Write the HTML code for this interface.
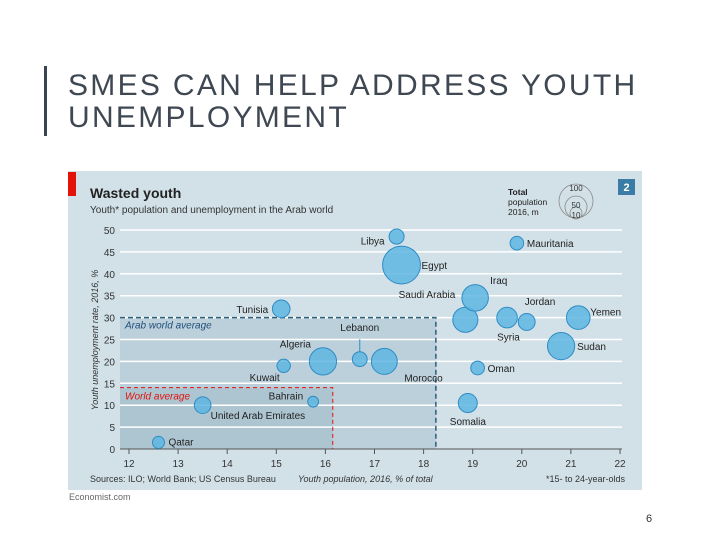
<!DOCTYPE html>
<html><head><meta charset="utf-8"><style>
body{margin:0;width:720px;height:540px;background:#fff;overflow:hidden;font-family:"Liberation Sans",sans-serif;position:relative}
#bar{position:absolute;left:44px;top:66px;width:3px;height:70px;background:#3a4350}
#title{position:absolute;left:68px;top:70px;font-size:30px;line-height:32px;letter-spacing:2.3px;color:#3f4852}
#pg{position:absolute;left:646px;top:513px;font-size:11px;color:#333}
svg{position:absolute;left:0;top:0}
</style></head><body>
<div id="bar"></div>
<div id="title">SMES CAN HELP ADDRESS YOUTH<br>UNEMPLOYMENT</div>
<div id="pg">6</div>
<svg id="chart" width="720" height="540"></svg>
<script>
const countries=["Qatar","United Arab Emirates","Kuwait","Algeria","Bahrain","Lebanon","Morocco","Tunisia","Libya","Egypt","Saudi Arabia","Iraq","Syria","Jordan","Mauritania","Yemen","Sudan","Oman","Somalia"];
const youthPop=[12.6,13.5,15.15,15.95,15.75,16.7,17.2,15.1,17.45,17.55,18.85,19.05,19.7,20.1,19.9,21.15,20.8,19.1,18.9];
const unemployment=[1.5,10,19,20,10.8,20.5,20,32,48.5,42,29.5,34.5,30,29,47,30,23.5,18.5,10.5];
const population=[2.5,9,4,40,1.4,6,35,11,6.3,93,32,37,18,9.5,4.3,27,40,4.4,14];
const xTicks=[12,13,14,15,16,17,18,19,20,21,22];
const yTicks=[0,5,10,15,20,25,30,35,40,45,50];
const arabAvg=[18.25,30], worldAvg=[16.15,14];
const NS="http://www.w3.org/2000/svg";
const svg=document.getElementById('chart');
const X=v=>129+(v-12)*49.1, Y=v=>449-v*4.38, R=p=>3.5+Math.sqrt(p)*1.6;
function el(t,a,txt){const e=document.createElementNS(NS,t);for(const k in a)e.setAttribute(k,a[k]);if(txt!=null)e.textContent=txt;svg.appendChild(e);return e;}
let e;
e=el('rect',{x:68,y:171,width:574,height:319,fill:'#d2e1e8'});
e=el('rect',{x:68,y:172,width:8,height:24,fill:'#e3120b'});
e=el('rect',{x:618,y:179,width:17,height:16,fill:'#3a7ca5'});
e=el('text',{x:626.5,y:191,'font-size':11,'font-weight':'bold',fill:'#fff','text-anchor':'middle'},'2');
e=el('text',{x:90,y:198,'font-size':14,'font-weight':'bold',fill:'#222'},'Wasted youth');
e=el('text',{x:90,y:213,'font-size':10,fill:'#333'},'Youth* population and unemployment in the Arab world');
e=el('rect',{x:120,y:Y(arabAvg[1]),width:X(arabAvg[0])-120,height:449-Y(arabAvg[1]),fill:'#bcd0db'});
e=el('rect',{x:120,y:Y(worldAvg[1]),width:X(worldAvg[0])-120,height:449-Y(worldAvg[1]),fill:'#adc4d1'});
yTicks.forEach(t=>{
 e=el('line',{x1:120,x2:622,y1:Y(t),y2:Y(t),stroke:t===0?'#555':'#fff','stroke-width':t===0?1:1.5});
 e=el('text',{x:115,y:Y(t)+4,'font-size':10,fill:'#333','text-anchor':'end'},t);
});
xTicks.forEach(t=>{
 e=el('line',{x1:X(t),x2:X(t),y1:449,y2:454,stroke:'#555'});
 e=el('text',{x:X(t),y:467,'font-size':10,fill:'#333','text-anchor':'middle'},t);
});
e=el('path',{d:`M120 ${Y(arabAvg[1])}H${X(arabAvg[0])}V449`,fill:'none',stroke:'#2f5f7a','stroke-width':1.5,'stroke-dasharray':'5,3'});
e=el('path',{d:`M120 ${Y(worldAvg[1])}H${X(worldAvg[0])}V449`,fill:'none',stroke:'#e3120b','stroke-width':1,'stroke-dasharray':'4,3'});
e=el('text',{x:125,y:Y(arabAvg[1])+11,'font-size':10,'font-style':'italic',fill:'#1f4e79'},'Arab world average');
e=el('text',{x:125,y:Y(worldAvg[1])+12,'font-size':10,'font-style':'italic',fill:'#e3120b'},'World average');
const lab={"Qatar":[10,3,'start'],"United Arab Emirates":[8,14,'start'],"Kuwait":[-4,15,'end'],"Algeria":[-12,-14,'end'],"Bahrain":[-10,-2,'end'],"Lebanon":[0,-28,'middle'],"Morocco":[20,20,'start'],"Tunisia":[-13,4,'end'],"Libya":[-12,8,'end'],"Egypt":[20,4,'start'],"Saudi Arabia":[-10,-22,'end'],"Iraq":[15,-14,'start'],"Syria":[-10,23,'start'],"Jordan":[-2,-17,'start'],"Mauritania":[10,4,'start'],"Yemen":[12,-2,'start'],"Sudan":[16,4,'start'],"Oman":[10,4,'start'],"Somalia":[-18,22,'start']};
countries.forEach((c,i)=>{
 const cx=X(youthPop[i]),cy=Y(unemployment[i]),r=R(population[i]);
 e=el('circle',{cx,cy,r,fill:'#5fb6e2','fill-opacity':0.85,stroke:'#2e8cc4','stroke-width':1});
 const l=lab[c];
 e=el('text',{x:cx+l[0],y:cy+l[1],'font-size':10,fill:'#222','text-anchor':l[2]},c);
});
e=el('line',{x1:X(16.7),x2:X(16.7),y1:Y(20.5)-R(6),y2:Y(20.5)-20,stroke:'#2e8cc4'});
e=el('circle',{cx:576,cy:201,r:17,fill:'none',stroke:'#888','stroke-width':0.8});
e=el('circle',{cx:576,cy:207,r:11,fill:'none',stroke:'#888','stroke-width':0.8});
e=el('circle',{cx:576,cy:213,r:6,fill:'none',stroke:'#888','stroke-width':0.8});
[['100',191],['50',208],['10',218]].forEach(([t,y])=>{e=el('text',{x:576,y,'font-size':8,fill:'#333','text-anchor':'middle'},t);});
[['Total',195],['population',205],['2016, m',215]].forEach(([t,y])=>{e=el('text',{x:508,y,'font-size':8.5,fill:'#222','font-weight':t==='Total'?'bold':'normal'},t);});
e=el('text',{x:0,y:0,'font-size':9,'font-style':'italic',fill:'#333','text-anchor':'middle',transform:'translate(98,340) rotate(-90)'},'Youth unemployment rate, 2016, %');
e=el('text',{x:298,y:482,'font-size':9,'font-style':'italic',fill:'#333'},'Youth population, 2016, % of total');
e=el('text',{x:90,y:482,'font-size':9,fill:'#333'},'Sources: ILO; World Bank; US Census Bureau');
e=el('text',{x:625,y:482,'font-size':9,fill:'#333','text-anchor':'end'},'*15- to 24-year-olds');
e=el('text',{x:69,y:500,'font-size':9,fill:'#666'},'Economist.com');
</script>
</body></html>
